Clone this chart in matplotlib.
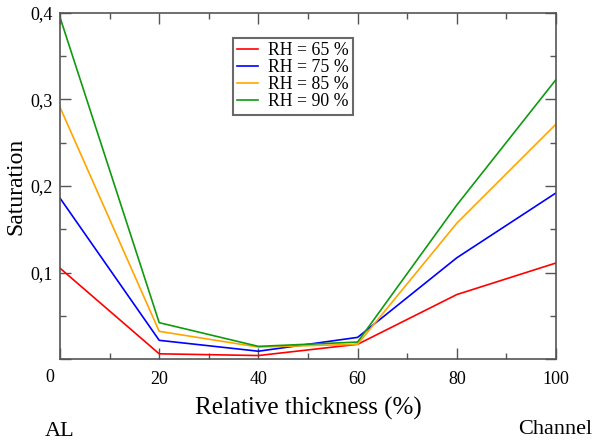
import matplotlib
matplotlib.use("Agg")
import matplotlib.pyplot as plt
from matplotlib.ticker import MultipleLocator, FuncFormatter

thickness = [0, 20, 40, 60, 80, 100]
rh65 = [0.105, 0.006, 0.004, 0.017, 0.0745, 0.111]
rh75 = [0.186, 0.0216, 0.009, 0.025, 0.117, 0.192]
rh85 = [0.291, 0.032, 0.0138, 0.017, 0.157, 0.2715]
rh90 = [0.395, 0.042, 0.0146, 0.0196, 0.178, 0.323]
labels = ["RH = 65 %", "RH = 75 %", "RH = 85 %", "RH = 90 %"]
colors = ["red", "blue", "orange", "#109a10"]

plt.rcParams['font.family'] = ['Liberation Serif', 'DejaVu Serif']

fig = plt.figure(figsize=(5.95, 4.41), dpi=100)
ax = fig.add_axes([60/595, 1 - 359/441, (556-60)/595, (359-13)/441])

for ys, lab, c in zip([rh65, rh75, rh85, rh90], labels, colors):
    ax.plot(thickness, ys, color=c, lw=1.2, label=lab)

ax.set_xlim(0, 100)
ax.set_ylim(0, 0.4)
ax.xaxis.set_major_locator(MultipleLocator(20))
ax.xaxis.set_minor_locator(MultipleLocator(10))
ax.yaxis.set_major_locator(MultipleLocator(0.1))
ax.yaxis.set_minor_locator(MultipleLocator(0.05))
ax.yaxis.set_major_formatter(FuncFormatter(lambda v, p: "" if abs(v) < 1e-9 else f"{v:.1f}".replace(".", ",")))
ax.xaxis.set_major_formatter(FuncFormatter(lambda v, p: "" if abs(v) < 1e-9 else f"{v:.0f}"))
ax.tick_params(which='both', direction='in', top=True, right=True, color='#555555', labelsize=13)
ax.tick_params(which='major', length=8, width=1)
ax.tick_params(which='minor', length=4, width=1)
ax.tick_params(axis='x', pad=9)
ax.tick_params(axis='y', pad=5)
for s in ax.spines.values():
    s.set_color('#555555')
    s.set_linewidth(1.2)

ax.set_xlabel("Relative thickness (%)", fontsize=18, labelpad=6)
ax.set_ylabel("Saturation", fontsize=17, labelpad=3)

leg = ax.legend(loc='upper left', bbox_to_anchor=(173/496, 1 - 25/346), fontsize=12.8,
                frameon=True, fancybox=False, handlelength=1.15, handletextpad=0.55,
                labelspacing=0.0, borderpad=0.25, borderaxespad=0)
leg.get_frame().set_edgecolor('#444444')
leg.get_frame().set_linewidth(1.5)

fig.text(50/595, 1 - 378/441, "0", fontsize=13, va='center', ha='center')
fig.text(45/595, 1 - 432/441, "AL", fontsize=16, va='center', ha='left')
fig.text(592/595, 1 - 430/441, "Channel", fontsize=16, va='center', ha='right')

fig.savefig("out.png", dpi=100)
